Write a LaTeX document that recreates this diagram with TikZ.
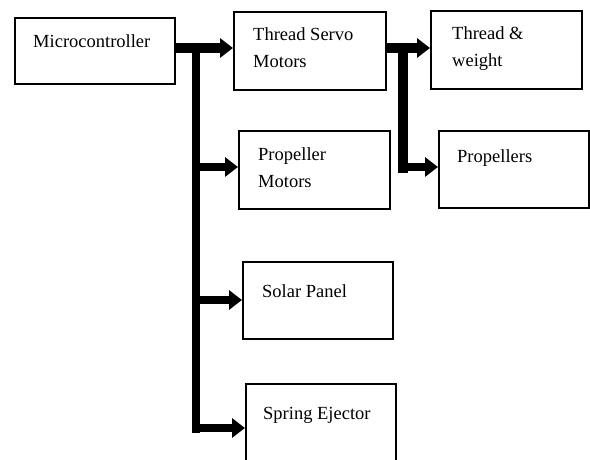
\documentclass[tikz,border=0pt]{standalone}
\usepackage{fontspec}
\setmainfont{Liberation Serif}
\usetikzlibrary{arrows.meta}
\begin{document}
\begin{tikzpicture}[x=1pt,y=-1pt,
  box/.style={draw=black,line width=1.6pt,inner sep=0pt,anchor=north west},
  txt/.style={inner sep=0pt,anchor=north west,align=left,font=\fontsize{18.5}{27}\selectfont},
  arr/.style={line width=#1,-{Triangle[length=13pt,width=19pt]}},
  arr/.default=8.5pt,
  bar/.style={line width=#1},
  bar/.default=8.5pt]
\useasboundingbox (0,0) rectangle (590,460);
% boxes
\node[box,minimum width=160pt,minimum height=66pt] (mc) at (14,17) {};
\node[box,minimum width=152pt,minimum height=78pt] (ts) at (233,11) {};
\node[box,minimum width=151pt,minimum height=78pt] (tw) at (430,10) {};
\node[box,minimum width=151pt,minimum height=78pt] (pm) at (238,130) {};
\node[box,minimum width=150pt,minimum height=77pt] (pr) at (438,130) {};
\node[box,minimum width=150pt,minimum height=77pt] (sp) at (242,261) {};
\node[box,minimum width=150pt,minimum height=80pt] (se) at (245,383) {};
% texts
\node[txt] (tmc) at (33,34.4) {Microcontroller};
\node[txt] (tts) at (253,27.4) {Thread Servo\\Motors};
\node[txt] (ttw) at (452,26.4) {Thread \&\\weight};
\node[txt] (tpm) at (258,147.4) {Propeller\\Motors};
\node[txt] (tpr) at (457,149.4) {Propellers};
\node[txt] (tsp) at (262,284.4) {Solar Panel};
\node[txt] (tse) at (263,407.4) {Spring Ejector};
% junction coordinates
\coordinate (j1) at (196,43);
\coordinate (j1b) at (196,433);
\coordinate (j2) at (403,43);
\coordinate (j2b) at (403,173);
% main connectors
\draw[arr=10pt] (mc.east |- 0,48) -- (ts.west |- 0,48);
\draw[bar] (j1) -- (j1b);
\draw[arr] (196,167) -- (pm.west |- 0,167);
\draw[arr] (196,300) -- (sp.west |- 0,300);
\draw[arr] (196,428) -- (se.west |- 0,428);
% second branch
\draw[arr=10pt] (ts.east |- 0,48) -- (tw.west |- 0,48);
\draw[bar=10pt] (j2) -- (j2b);
\draw[arr] (403,167) -- (pr.west |- 0,167);
\end{tikzpicture}
\end{document}
